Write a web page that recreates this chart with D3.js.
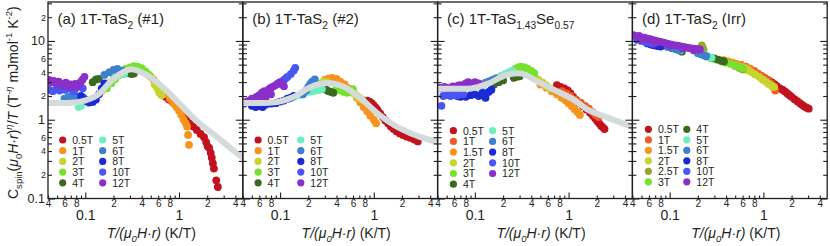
<!DOCTYPE html>
<html>
<head>
<meta charset="utf-8">
<script src="https://cdn.jsdelivr.net/npm/d3@7"></script>
<style>
body { margin: 0; background: #fff; }
svg { display: block; font-family: "Liberation Sans", Arial, sans-serif; }
</style>
</head>
<body>
<div id="chart"></div>
<script>
// field labels per panel
const fieldsA = ["0.5T", "1T", "2T", "3T", "4T", "5T", "6T", "8T", "10T", "12T"];
const fieldsB = ["0.5T", "1T", "2T", "3T", "4T", "5T", "6T", "8T", "10T", "12T"];
const fieldsC = ["0.5T", "1T", "1.5T", "2T", "3T", "4T", "5T", "6T", "8T", "10T", "12T"];
const fieldsD = ["0.5T", "1T", "1.5T", "2T", "2.5T", "3T", "4T", "5T", "6T", "8T", "10T", "12T"];

// tick values / labels
const xMajorTicks = [0.1, 1];
const xMajorLabels = ["0.1", "1"];
const xMinorTicks = [0.04, 0.05, 0.06, 0.07, 0.08, 0.09, 0.2, 0.3, 0.4, 0.5, 0.6, 0.7, 0.8, 0.9, 2, 3, 4];
const xMinorLabels = ["4", "", "6", "", "8", "", "2", "", "4", "", "6", "", "8", "", "2", "", "4"];
const yMajorTicks = [0.1, 1, 10];
const yMajorLabels = ["0.1", "1", "10"];
const yMinorTicks = [0.2, 0.3, 0.4, 0.5, 0.6, 0.7, 0.8, 0.9, 2, 3, 4, 5, 6, 7, 8, 9, 20, 30];
const yMinorLabels = ["2", "", "4", "", "6", "", "", "", "2", "", "4", "", "6", "", "", "", "2", ""];

// (a) 1T-TaS2 #1 : [T/(u0H r), C/T] per field
const pointsA = [
  [[0.72,1.95],[0.78,1.8],[0.85,1.7],[0.92,1.55],[1.0,1.42],[1.1,1.22],[1.2,1.02],[1.3,0.9],[1.42,0.82],[1.55,0.74],[1.7,0.66],[1.85,0.6],[1.95,0.52],[2.02,0.46],[2.1,0.44],[2.18,0.38],[2.24,0.33],[2.3,0.28],[2.36,0.24],[2.5,0.17],[2.6,0.14]],
  [[0.38,4.3],[0.42,4.1],[0.46,3.8],[0.5,3.5],[0.54,3.2],[0.58,2.9],[0.63,2.6],[0.68,2.35],[0.74,2.1],[0.8,1.85],[0.87,1.62],[0.94,1.45],[1.0,1.3],[1.06,1.15],[1.12,1.0],[1.18,0.9],[1.22,0.82],[1.25,0.64],[1.28,0.48]],
  [[0.15,2.3],[0.16,2.5],[0.17,2.75],[0.18,2.95],[0.2,3.2],[0.55,2.8],[0.58,2.6],[0.6,2.4],[0.62,2.2],[0.65,2.05]],
  [[0.17,2.5],[0.19,2.9],[0.21,3.3],[0.23,3.7],[0.25,4.1],[0.27,4.4],[0.3,4.6],[0.33,4.8],[0.36,4.7],[0.4,4.5],[0.44,4.1],[0.48,3.7]],
  [[0.12,3.0],[0.13,3.25],[0.14,3.3],[0.29,3.9],[0.31,3.8],[0.33,3.85]],
  [[0.085,1.45],[0.09,1.5],[0.2,3.5],[0.22,3.8],[0.24,4.0],[0.26,3.8]],
  [[0.06,1.85],[0.066,1.95],[0.072,2.0],[0.08,1.95],[0.088,1.85],[0.096,1.9],[0.16,3.7],[0.18,4.0],[0.2,4.3],[0.22,4.4],[0.25,4.2]],
  [[0.09,2.0],[0.1,1.8],[0.105,1.7],[0.11,1.65],[0.12,1.68],[0.13,1.8],[0.14,2.1],[0.15,2.5],[0.16,2.9]],
  [[0.041,2.4],[0.045,2.3],[0.049,2.45],[0.053,2.35],[0.057,2.5],[0.061,2.4],[0.066,2.55],[0.071,2.45],[0.076,2.3],[0.082,2.6],[0.088,2.8],[0.094,2.5]],
  [[0.041,3.2],[0.043,3.0],[0.046,3.1],[0.049,2.9],[0.052,3.05],[0.055,2.85],[0.058,2.75],[0.062,2.95],[0.066,2.65],[0.07,2.8],[0.074,2.6],[0.078,2.85],[0.083,2.7],[0.088,2.95],[0.093,3.2],[0.098,3.5]]
];
const fitA = [[0.04,1.63],[0.06,1.63],[0.089,1.7],[0.134,2.05],[0.2,3.3],[0.3,4.35],[0.46,3.66],[0.7,2.48],[1.05,1.53],[1.58,0.94],[2.4,0.64],[3.6,0.43],[4.8,0.33]];

// (b) 1T-TaS2 #2
const pointsB = [
  [[0.85,1.75],[0.9,1.7],[0.95,1.62],[1.0,1.52],[1.05,1.42],[1.1,1.32],[1.17,1.2],[1.25,1.08],[1.33,0.98],[1.42,0.9],[1.52,0.82],[1.63,0.76],[1.76,0.71],[1.9,0.67],[2.05,0.64],[2.25,0.61],[2.45,0.59],[2.7,0.56],[2.95,0.53]],
  [[0.3,3.2],[0.33,3.35],[0.36,3.4],[0.4,3.3],[0.44,3.05],[0.49,2.8],[0.54,2.5],[0.6,2.2],[0.66,1.9],[0.72,1.65],[0.78,1.45],[0.85,1.28],[0.92,1.12],[1.0,1.0],[1.06,0.9]],
  [[0.27,2.9],[0.29,3.05],[0.32,3.0],[0.58,2.3],[0.62,2.15],[0.66,2.0],[0.7,1.9],[0.75,1.8]],
  [[0.4,2.5],[0.44,2.35],[0.48,2.25],[0.52,2.2],[0.56,2.3],[0.6,2.45]],
  [[0.31,2.4],[0.33,2.3],[0.35,2.25],[0.37,2.2]],
  [[0.12,1.85],[0.14,1.95],[0.16,2.05],[0.18,2.15],[0.2,2.25],[0.22,2.3],[0.24,2.35],[0.26,2.4],[0.28,2.45]],
  [[0.175,2.1],[0.19,2.35],[0.2,2.6],[0.21,2.85],[0.22,3.05],[0.235,3.25]],
  [[0.05,1.5],[0.055,1.45],[0.06,1.5],[0.065,1.45],[0.07,1.55],[0.08,1.6],[0.09,1.62],[0.1,1.7],[0.11,1.75],[0.12,1.85],[0.13,1.9],[0.14,2.0]],
  [[0.1,2.9],[0.105,3.05],[0.11,3.2],[0.115,3.35],[0.12,3.5],[0.13,3.8],[0.14,4.2],[0.145,4.55]],
  [[0.041,1.6],[0.044,1.7],[0.047,1.75],[0.05,1.85],[0.053,1.8],[0.056,1.95],[0.06,2.05],[0.064,2.2],[0.068,2.3],[0.072,2.2],[0.076,2.45],[0.08,2.55],[0.085,2.65],[0.09,2.75],[0.095,2.9],[0.1,3.0],[0.105,2.8],[0.11,2.65],[0.06,1.75],[0.07,1.9],[0.08,2.1]]
];
const fitB = [[0.04,1.63],[0.06,1.63],[0.093,1.67],[0.141,1.95],[0.213,2.6],[0.32,2.92],[0.484,2.6],[0.73,1.85],[1.1,1.2],[1.66,0.85],[2.5,0.67],[3.5,0.58],[4.8,0.52]];

// (c) 1T-TaS1.43Se0.57
const pointsC = [
  [[0.75,2.75],[0.82,2.6],[0.9,2.5],[0.98,2.35],[1.05,2.15],[1.12,1.95],[1.2,1.78],[1.3,1.62],[1.42,1.48],[1.55,1.35],[1.7,1.22],[1.82,1.12],[1.92,1.04],[2.02,0.96],[2.12,0.9],[2.22,0.84],[2.32,0.8],[2.42,0.76]],
  [[0.85,2.3],[0.95,2.15],[1.05,2.0],[1.2,1.8],[1.35,1.65],[1.5,1.5],[1.65,1.38],[1.8,1.25],[1.95,1.15],[2.1,1.08]],
  [[0.5,2.8],[0.58,2.55],[0.66,2.3],[0.75,2.1],[0.84,1.9],[0.93,1.75],[1.0,1.62],[1.08,1.48],[1.16,1.36],[1.24,1.25],[1.32,1.15]],
  [[0.4,3.7],[0.44,3.45],[0.48,3.2],[0.53,2.95],[0.58,2.7],[0.63,2.5]],
  [[0.25,4.1],[0.27,4.4],[0.29,4.6],[0.31,4.7],[0.34,4.6],[0.37,4.4],[0.4,4.15],[0.43,3.9]],
  [[0.16,2.8],[0.18,3.0],[0.2,3.15],[0.26,3.4],[0.28,3.5],[0.3,3.55]],
  [[0.17,3.4],[0.19,3.6],[0.21,3.8],[0.23,4.0],[0.25,4.2]],
  [[0.12,2.75],[0.13,2.95],[0.14,3.05],[0.15,3.15],[0.16,3.25],[0.17,3.35]],
  [[0.055,2.05],[0.06,2.1],[0.065,2.0],[0.07,1.95],[0.075,2.05],[0.08,1.95],[0.09,2.05],[0.1,2.1],[0.11,2.0],[0.12,2.2],[0.13,1.9],[0.14,2.25],[0.15,2.4]],
  [[0.044,1.5],[0.046,2.0],[0.05,2.05],[0.055,2.0],[0.06,2.1],[0.065,2.05],[0.07,2.15],[0.075,2.1]],
  [[0.041,2.55],[0.044,2.5],[0.047,2.6],[0.05,2.55],[0.054,2.5],[0.058,2.65],[0.062,2.6],[0.066,2.7],[0.07,2.75],[0.075,2.7],[0.08,2.9],[0.085,3.0],[0.09,2.8],[0.095,2.9],[0.1,3.0],[0.105,2.85],[0.11,2.9]]
];
const fitC = [[0.04,2.48],[0.06,2.48],[0.092,2.5],[0.139,2.87],[0.21,3.66],[0.316,3.85],[0.477,3.0],[0.72,2.36],[1.09,1.85],[1.64,1.32],[2.48,1.085],[4.8,0.81]];

// (d) 1T-TaS2 Irr (no fit)
const pointsD = [
  [[1.0,3.4],[1.08,3.25],[1.16,3.1],[1.24,2.95],[1.32,2.8],[1.4,2.65],[1.5,2.5],[1.6,2.4],[1.7,2.28],[1.8,2.15],[1.9,2.05],[2.0,1.95],[2.15,1.82],[2.3,1.72],[2.45,1.62],[2.6,1.54],[2.75,1.47],[2.9,1.42],[3.05,1.38]],
  [[0.58,4.95],[0.65,4.7],[0.72,4.45],[0.8,4.15],[0.88,3.85],[0.96,3.6],[1.04,3.4],[1.12,3.2],[1.2,2.9],[1.28,2.6],[1.34,2.35]],
  [[0.38,5.7],[0.42,5.5],[0.47,5.3],[0.52,5.1],[0.58,4.85],[0.64,4.6],[0.7,4.4]],
  [[0.62,4.5],[0.68,4.25],[0.75,4.0],[0.82,3.75],[0.9,3.5],[0.98,3.25],[1.06,3.05],[1.14,2.85],[1.22,2.72],[1.3,2.6]],
  [[0.22,8.8],[0.225,8.2],[0.23,7.7],[0.5,4.8],[0.55,4.55],[0.6,4.35]],
  [[0.25,6.3],[0.28,6.0],[0.32,5.75],[0.36,5.5],[0.4,5.3],[0.45,5.1],[0.5,4.9],[0.55,4.7],[0.6,4.5]],
  [[0.135,7.3],[0.3,6.0],[0.33,5.8],[0.36,5.6],[0.38,5.5]],
  [[0.11,8.0],[0.12,7.8],[0.13,7.6],[0.24,6.6],[0.26,6.3],[0.28,6.1]],
  [[0.085,8.7],[0.095,8.4],[0.105,8.1],[0.115,7.9],[0.125,7.6],[0.2,7.0],[0.215,6.8],[0.23,6.6],[0.245,6.4]],
  [[0.058,9.3],[0.063,9.0],[0.068,8.8],[0.074,8.6],[0.08,8.5]],
  [[0.045,10.3],[0.05,10.0],[0.055,9.7],[0.06,9.5],[0.066,9.2]],
  [[0.041,11.8],[0.044,11.4],[0.047,11.6],[0.05,11.1],[0.054,11.0],[0.058,10.6],[0.062,10.5],[0.067,10.2],[0.072,10.0],[0.078,9.8],[0.084,9.6],[0.09,9.4],[0.097,9.2],[0.105,9.0],[0.113,8.8],[0.122,8.7],[0.132,8.5],[0.142,8.4],[0.153,8.2],[0.165,8.1],[0.178,8.0],[0.19,7.9],[0.2,7.8],[0.21,7.8],[0.05,10.4],[0.07,9.5],[0.1,8.7],[0.14,8.0],[0.18,7.6]]
];

const colorMap = {
  "0.5T": "#c1121f", "1T": "#f7941d", "1.5T": "#f7941d", "2T": "#c5d52b", "2.5T": "#98a72a",
  "3T": "#76e22f", "4T": "#3b6a1f", "5T": "#6cefbf", "6T": "#3f7fcc", "8T": "#1a2bd6",
  "10T": "#4b55f0", "12T": "#8a2fc8"
};
const redOrange = "#f15a24";

const panels = [
  { fields: fieldsA, points: pointsA, fit: fitA, oneT: colorMap["1T"],
    title: [{t: "(a) 1T-TaS"}, {t: "2", sub: 1}, {t: " (#1)"}], split: 5, legTop: 140, rowH: 10.7, cols: [14.7, 54.7] },
  { fields: fieldsB, points: pointsB, fit: fitB, oneT: colorMap["1T"],
    title: [{t: "(b) 1T-TaS"}, {t: "2", sub: 1}, {t: " (#2)"}], split: 5, legTop: 140, rowH: 10.7, cols: [15.3, 58] },
  { fields: fieldsC, points: pointsC, fit: fitC, oneT: redOrange,
    title: [{t: "(c)  1T-TaS"}, {t: "1.43", sub: 1}, {t: "Se"}, {t: "0.57", sub: 1}], split: 6, legTop: 130.7, rowH: 10.7, cols: [15.8, 55] },
  { fields: fieldsD, points: pointsD, fit: null, oneT: redOrange,
    title: [{t: "(d) 1T-TaS"}, {t: "2", sub: 1}, {t: " (Irr)"}], split: 6, legTop: 129.3, rowH: 10.5, cols: [16, 54.4] }
];

const width = 830, height = 246;
const panelLeft = [48, 242.8, 437.6, 632.4];
const panelW = 194.8;
const plotTop = 2, plotBottom = 198.5;
const ink = "#231f20";

const svg = d3.select("#chart").append("svg")
  .attr("width", width)
  .attr("height", height);

// text with sub/superscripts
function rich(sel, parts, size) {
  let shift = 0;
  parts.forEach(p => {
    const s = p.sub ? size * 0.3 : p.sup ? -size * 0.42 : 0;
    sel.append("tspan")
      .attr("dy", s - shift)
      .attr("font-size", (p.sub || p.sup) ? size * 0.68 : size)
      .attr("font-style", p.it ? "italic" : null)
      .text(p.t);
    shift = s;
  });
}

panels.forEach((p, i) => {
  const L = panelLeft[i];
  const x = d3.scaleLog().domain([0.04, 4.8]).range([L, L + panelW]);
  const y = d3.scaleLog().domain([0.1, 31.2]).range([plotBottom, plotTop]);
  const g = svg.append("g");

  const clipId = "clip" + i;
  svg.append("clipPath").attr("id", clipId)
    .append("rect").attr("x", L).attr("y", plotTop).attr("width", panelW).attr("height", plotBottom - plotTop);

  const colorOf = f => f === "1T" ? p.oneT : colorMap[f];

  const data = g.append("g").attr("clip-path", `url(#${clipId})`);
  p.fields.forEach((f, j) => {
    data.append("g").selectAll("circle")
      .data(p.points[j])
      .enter()
      .append("circle")
      .attr("cx", d => x(d[0]))
      .attr("cy", d => y(d[1]))
      .attr("r", 3.9)
      .attr("fill", colorOf(f));
  });

  if (p.fit) {
    data.append("path")
      .datum(p.fit)
      .attr("fill", "none")
      .attr("stroke", "#d3dbdb")
      .attr("stroke-width", 6)
      .attr("stroke-linecap", "round")
      .attr("d", d3.line().x(d => x(d[0])).y(d => y(d[1])).curve(d3.curveCatmullRom));
  }

  // axes, ticks pointing inward
  const lab = (vals, labels) => d => labels[vals.indexOf(d)];
  const yl = g.append("g").attr("transform", `translate(${L},0)`);
  yl.append("g").call(d3.axisLeft(y).tickValues(yMinorTicks).tickSize(-4).tickPadding(2)
    .tickFormat(i === 0 ? lab(yMinorTicks, yMinorLabels) : ""))
    .attr("font-size", 9);
  yl.append("g").call(d3.axisLeft(y).tickValues(yMajorTicks).tickSize(-7).tickPadding(3)
    .tickFormat(i === 0 ? lab(yMajorTicks, yMajorLabels) : ""))
    .attr("font-size", 12.5);

  const yr = g.append("g").attr("transform", `translate(${L + panelW},0)`);
  yr.append("g").call(d3.axisRight(y).tickValues(yMinorTicks).tickSize(-4).tickFormat(""));
  yr.append("g").call(d3.axisRight(y).tickValues(yMajorTicks).tickSize(-7).tickFormat(""));

  const xb = g.append("g").attr("transform", `translate(0,${plotBottom})`);
  xb.append("g").call(d3.axisBottom(x).tickValues(xMinorTicks).tickSize(-3).tickPadding(1.5)
    .tickFormat(lab(xMinorTicks, xMinorLabels)))
    .attr("font-size", 10);
  xb.append("g").call(d3.axisBottom(x).tickValues(xMajorTicks).tickSize(-6).tickPadding(12)
    .tickFormat(lab(xMajorTicks, xMajorLabels)))
    .attr("font-size", 14);

  g.selectAll(".domain").remove();
  g.selectAll(".tick line").attr("stroke", ink).attr("stroke-width", 1.1);
  g.selectAll(".tick text").attr("fill", ink).attr("font-family", null);

  g.append("rect")
    .attr("x", L).attr("y", plotTop)
    .attr("width", panelW).attr("height", plotBottom - plotTop)
    .attr("fill", "none").attr("stroke", ink).attr("stroke-width", 1.3);

  // panel title
  const t = g.append("text").attr("x", L + 9.5).attr("y", 24).attr("fill", ink);
  rich(t, p.title, 15);

  // legend
  const leg = g.append("g");
  p.fields.forEach((f, j) => {
    const col = j < p.split ? 0 : 1;
    const row = col === 0 ? j : j - p.split;
    const cy = p.legTop + row * p.rowH;
    const cx = L + p.cols[col];
    leg.append("circle").attr("cx", cx).attr("cy", cy).attr("r", 3.6).attr("fill", colorOf(f));
    leg.append("text").attr("x", cx + 9.5).attr("y", cy + 3.8)
      .attr("font-size", 10.5).attr("fill", ink).text(f);
  });

  // x title
  const xt = g.append("text").attr("x", L + panelW / 2 + 6).attr("y", 238)
    .attr("text-anchor", "middle").attr("fill", ink);
  rich(xt, [{t: "T/(μ", it: 1}, {t: "0", sub: 1, it: 1}, {t: "H·r)", it: 1}, {t: " (K/T)"}], 14);
});

// y title
const yt = svg.append("text")
  .attr("transform", "translate(18,199) rotate(-90)")
  .attr("fill", ink);
rich(yt, [
  {t: "C"}, {t: "spin", sub: 1}, {t: "("}, {t: "μ", it: 1}, {t: "0", sub: 1}, {t: "H·r", it: 1}, {t: ")"},
  {t: "η", sup: 1, it: 1}, {t: "/"}, {t: "T", it: 1}, {t: " (T"}, {t: "-η", sup: 1, it: 1},
  {t: " mJmol"}, {t: "-1", sup: 1}, {t: " K"}, {t: "-2", sup: 1}, {t: ")"}
], 14);
</script>
</body>
</html>
